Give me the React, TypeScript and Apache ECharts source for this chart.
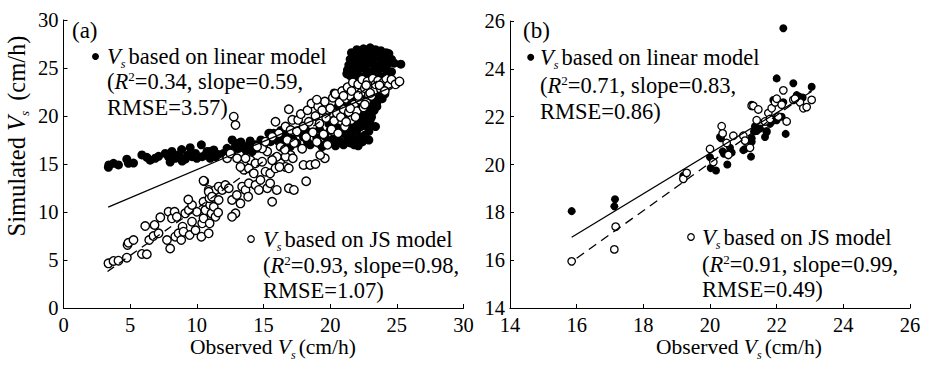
import React, { useEffect, useRef } from "react";
import * as echarts from "echarts";

const FONT = "'Liberation Serif', 'Times New Roman', serif";

// ---------- Axis ranges / ticks ----------
const axisA = { min: 0, max: 30, interval: 5 };
const axisB = { min: 14, max: 26, interval: 2 };

// ---------- Panel (a): Vs from linear model (filled) ----------
const linearA: number[][] = [
  [3.37, 14.65], [3.4, 14.9], [3.75, 15.07], [4.12, 14.9], [4.75, 15.5], [4.87, 15.07], [5.25, 15.1],
  [5.88, 15.94], [6.25, 15.7], [6.5, 15.4], [6.88, 15.6], [7.13, 15.8], [7.63, 16.1], [7.88, 15.76],
  [8.13, 16.3], [8.38, 15.6], [8.63, 15.94], [8.86, 16.5], [9.13, 15.5], [9.5, 16.7], [9.64, 15.76],
  [9.9, 16.1], [10.34, 17.0], [10.4, 15.76], [10.77, 16.3], [11.0, 15.6], [11.27, 16.46], [8.0, 15.2],
  [8.9, 15.3], [9.3, 15.9], [9.64, 15.94], [10.0, 15.6], [10.64, 15.94], [11.0, 16.3], [11.4, 15.76],
  [11.6, 16.0], [12.0, 16.1], [12.27, 16.63], [12.65, 17.5], [12.9, 17.15], [13.14, 16.63], [13.52, 16.8],
  [13.9, 16.98], [14.15, 16.3], [14.52, 16.63], [15.02, 16.98], [15.4, 18.2], [15.78, 18.2], [15.53, 17.33],
  [16.15, 17.33], [16.53, 16.63], [12.4, 16.2], [12.8, 16.6], [13.3, 17.3], [13.7, 16.4], [14.0, 17.4],
  [14.4, 17.0], [14.8, 17.5],
  [15.5, 18.2], [15.8, 17.6], [16.2, 17.8], [16.5, 17.3], [16.8, 18.0], [17.0, 16.8], [17.2, 17.6],
  [17.5, 17.2], [17.9, 16.6], [18.0, 17.8], [18.3, 17.3], [18.5, 17.0], [18.7, 18.3], [19.0, 17.7],
  [19.15, 17.15], [19.4, 16.8], [19.6, 17.9], [19.8, 17.3], [20.0, 18.5], [20.2, 17.6], [20.4, 16.9],
  [20.5, 18.8], [20.7, 17.4], [20.9, 18.2], [21.0, 17.0], [21.2, 19.0], [21.3, 17.7], [21.5, 18.4],
  [19.2, 18.6], [19.9, 19.2], [20.3, 19.6], [20.7, 20.2], [21.0, 19.8], [18.2, 18.5], [17.6, 18.3],
  [16.9, 18.6], [16.3, 18.5], [20.3, 22.4], [20.8, 21.7], [21.2, 22.6], [20.6, 21.0],
  [21.5, 17.2], [21.8, 17.0], [22.1, 16.9], [22.4, 17.3], [21.6, 17.9], [21.9, 17.6], [22.2, 17.8],
  [22.6, 18.0], [22.9, 18.4], [21.4, 18.8], [21.7, 18.6], [22.0, 18.5], [22.3, 18.9], [22.7, 19.0],
  [23.0, 19.2], [23.0, 19.6], [21.5, 19.5], [21.8, 19.3], [22.1, 19.7], [22.5, 19.9], [22.8, 20.1],
  [23.1, 19.9], [23.1, 20.3], [23.3, 20.6], [21.6, 20.3], [21.9, 20.2], [22.2, 20.6], [22.6, 20.8],
  [22.9, 21.0], [23.2, 21.2], [23.5, 21.4], [23.5, 21.0], [21.7, 21.1], [22.0, 21.3], [22.3, 21.6],
  [22.7, 21.8], [23.0, 22.0], [23.4, 22.1], [23.7, 22.3], [23.8, 22.5], [21.9, 22.0], [22.2, 22.3],
  [22.5, 22.6], [22.9, 22.8], [23.2, 23.0], [23.6, 23.0], [23.9, 22.9], [24.2, 23.0], [21.3, 21.2],
  [21.1, 20.5], [22.4, 19.4], [23.9, 21.8], [24.1, 22.3], [23.4, 18.9], [22.9, 17.5],
  [22.0, 26.9], [22.5, 27.0], [23.0, 27.1], [23.4, 26.9], [23.8, 26.8], [21.6, 26.6], [22.2, 26.5],
  [22.7, 26.6], [23.2, 26.5], [23.7, 26.4], [24.2, 26.6], [24.4, 26.5], [21.5, 25.9], [21.9, 26.1],
  [22.4, 26.0], [22.9, 26.0], [23.4, 26.1], [23.9, 25.9], [24.4, 26.1], [21.4, 25.3], [21.8, 25.5],
  [22.3, 25.4], [22.8, 25.5], [23.3, 25.3], [23.8, 25.5], [24.3, 25.4], [24.8, 25.5], [25.3, 25.4],
  [21.3, 24.8], [21.7, 24.7], [22.2, 24.9], [22.7, 24.8], [23.2, 24.7], [23.7, 24.9], [24.2, 24.8],
  [24.6, 24.6], [21.25, 24.4], [21.5, 24.2], [22.0, 24.3], [22.5, 24.1], [23.0, 24.2], [23.5, 24.3],
  [24.0, 24.1], [24.4, 24.0], [21.9, 23.6], [22.4, 23.7], [22.9, 23.6], [23.4, 23.5], [23.9, 23.6],
  [24.3, 23.4], [22.2, 26.2], [23.1, 25.8], [24.0, 25.2], [22.6, 25.1], [21.9, 24.6], [23.5, 24.6],
  [22.7, 26.3], [23.6, 26.2], [22.1, 25.0], [24.6, 25.9],
];

// ---------- Panel (a): Vs from JS model (open) ----------
const jsA: number[][] = [
  [3.37, 4.65], [3.75, 4.9], [4.12, 4.93], [4.75, 5.24], [4.8, 6.56], [4.87, 6.8], [5.25, 7.08],
  [5.88, 5.63], [6.25, 5.6], [6.13, 8.54], [6.43, 7.08], [6.75, 7.5], [6.83, 8.65], [7.13, 7.78],
  [7.26, 9.44], [7.76, 7.08], [7.88, 10.03], [8.0, 6.2], [8.13, 9.34], [8.33, 10.03], [8.5, 9.5],
  [8.38, 7.43], [8.63, 7.78], [8.83, 7.08], [8.93, 8.47], [9.0, 7.95], [9.13, 9.86], [9.46, 7.6],
  [9.64, 8.99], [9.9, 8.1], [10.0, 10.03], [9.4, 10.2], [9.64, 10.73], [10.34, 7.43], [10.4, 8.82],
  [10.5, 9.34], [10.64, 10.2], [10.5, 11.07], [10.89, 7.78], [10.96, 8.82], [11.1, 9.86], [11.0, 10.73],
  [10.94, 11.43], [10.89, 12.3], [10.56, 13.2], [11.14, 11.77], [11.4, 9.5], [11.27, 10.55], [9.36, 11.3],
  [11.6, 9.95],
  [12.77, 19.93], [12.9, 19.06], [10.5, 13.26], [11.4, 12.3], [11.64, 12.64], [11.9, 12.3], [12.14, 12.8],
  [12.4, 12.47], [10.89, 12.1], [11.14, 11.6], [11.64, 11.25], [12.64, 11.25], [13.0, 11.77], [13.27, 10.9],
  [13.4, 12.64], [12.9, 9.86], [12.64, 9.5], [13.65, 12.3], [13.9, 12.99], [14.4, 12.8], [14.77, 13.33],
  [15.28, 12.47], [15.65, 11.07], [14.65, 12.3], [13.52, 14.4], [13.27, 14.7], [13.9, 14.55], [14.27, 14.03],
  [14.02, 15.4], [13.65, 15.6], [14.4, 15.07], [14.9, 15.24], [15.15, 14.2], [15.5, 14.03], [15.9, 14.55],
  [16.28, 15.07], [16.65, 14.7], [16.9, 12.47], [17.28, 12.3], [15.5, 12.99], [16.0, 12.3], [16.9, 14.55],
  [17.03, 15.94], [16.65, 15.77], [16.0, 15.76], [15.65, 15.4], [15.28, 16.3], [14.9, 16.63], [14.52, 16.8],
  [16.28, 16.8], [16.78, 17.5], [15.9, 19.4], [16.9, 20.7], [17.16, 19.6], [16.65, 18.9], [17.03, 18.54],
  [16.15, 18.2], [15.65, 17.84], [15.15, 17.33], [12.27, 15.6], [12.52, 16.1], [13.02, 15.6], [13.85, 11.6],
  [17.2, 15.6], [18.0, 14.9], [18.5, 14.9], [18.9, 15.0], [19.6, 15.6], [19.25, 15.94], [16.6, 16.5],
  [16.2, 14.7], [18.2, 13.2],
  [17.3, 17.2], [17.5, 18.4], [17.6, 19.6], [17.8, 20.2], [17.9, 16.6], [18.0, 18.9], [18.2, 17.8],
  [18.3, 20.6], [18.4, 19.4], [18.6, 21.3], [18.7, 18.3], [18.9, 20.0], [19.0, 17.3], [19.1, 21.0],
  [19.2, 19.2], [19.4, 20.6], [19.5, 18.1], [19.6, 21.5], [19.7, 19.8], [19.8, 17.0], [20.0, 20.8],
  [20.1, 18.6], [20.2, 21.9], [20.3, 19.5], [20.4, 22.3], [20.5, 20.3], [20.6, 18.2], [20.7, 21.4],
  [20.8, 19.9], [20.9, 22.6], [21.0, 20.7], [21.1, 18.9], [21.2, 21.8], [21.3, 23.0], [21.4, 20.4],
  [21.5, 22.1], [21.6, 19.6], [21.7, 23.5], [21.8, 21.2], [21.9, 22.7], [22.0, 20.5], [22.1, 23.3],
  [22.2, 21.7], [22.3, 22.4], [22.4, 23.8], [22.5, 20.9], [22.6, 22.9], [22.7, 21.5], [22.8, 23.6],
  [22.9, 22.2], [23.0, 23.1], [23.1, 22.1], [23.2, 23.9], [23.3, 22.6], [23.4, 23.3], [23.6, 23.7],
  [23.8, 22.8], [24.0, 23.5], [24.2, 23.9], [24.4, 23.2], [24.6, 23.8], [24.9, 23.3], [25.2, 23.6],
  [19.0, 21.7], [21.2, 19.4], [21.5, 20.8], [21.9, 19.9], [22.6, 21.2], [23.0, 22.4], [21.0, 22.1],
  [21.6, 22.6], [22.1, 22.1], [22.7, 23.2], [23.7, 23.2], [24.1, 22.6],
];

// ---------- Panel (b) ----------
const linearB: number[][] = [
  [15.85, 18.05], [17.15, 18.55], [17.13, 18.25], [19.2, 19.53], [20.0, 20.3], [20.02, 19.85],
  [20.18, 19.75], [20.3, 21.15], [20.33, 21.1], [20.38, 20.55], [20.42, 20.45], [20.52, 20.0],
  [20.6, 20.7], [20.65, 20.5], [21.0, 20.6], [21.05, 20.65], [21.23, 20.33], [21.25, 20.95],
  [21.25, 21.1], [21.32, 21.38], [21.35, 21.6], [21.25, 22.5], [21.4, 21.4], [21.65, 21.15],
  [21.7, 21.35], [21.7, 21.4], [21.8, 21.7], [21.85, 21.8], [21.9, 22.7], [22.0, 21.85], [22.0, 23.6],
  [22.15, 22.0], [22.2, 22.6], [22.2, 25.7], [22.27, 21.28], [22.5, 23.4], [22.6, 22.9],
  [22.67, 22.84], [22.78, 22.8], [23.05, 23.25], [21.5, 21.5], [21.95, 21.9],
];
const jsB: number[][] = [
  [15.85, 15.95], [17.17, 17.4], [17.13, 16.45], [19.2, 19.4], [19.3, 19.65], [20.0, 20.65],
  [20.1, 20.1], [20.35, 21.6], [20.38, 21.3], [20.7, 21.2], [20.55, 20.4], [20.5, 20.9], [21.0, 21.2],
  [21.05, 21.0], [21.2, 20.7], [21.25, 22.45], [21.3, 22.45], [21.45, 22.3], [21.4, 21.85],
  [21.65, 21.8], [21.75, 22.15], [21.85, 22.35], [21.95, 22.6], [22.0, 22.75], [22.2, 23.1],
  [22.15, 22.5], [22.05, 22.0], [22.3, 21.8], [22.5, 22.7], [22.7, 22.6], [22.8, 22.35], [22.9, 22.4],
  [23.05, 22.7], [22.55, 22.75], [21.8, 21.9],
];

// ---------- Fitted lines (end points) ----------
const linFitA: number[][] = [[3.35, 10.5], [24.6, 23.0]];
const jsFitA: number[][] = [[3.3, 3.8], [24.5, 24.6]];
const linFitB: number[][] = [[15.85, 16.96], [23.05, 23.05]];
const jsFitB: number[][] = [[16.0, 16.08], [23.05, 23.1]];

// ---------- Statistics shown in the annotations ----------
const statsA = { lin: ["0.34", "0.59", "3.57"], js: ["0.93", "0.98", "1.07"] };
const statsB = { lin: ["0.71", "0.83", "0.86"], js: ["0.91", "0.99", "0.49"] };

const FS = 22.5;
const TS = 21.5;
const YS = 24.5;
const RICH: any = {
  n: { fontFamily: FONT, fontSize: FS, lineHeight: 24, fill: "#000" },
  a: { fontFamily: FONT, fontSize: 23, lineHeight: 24, fill: "#000" },
  t: { fontFamily: FONT, fontSize: TS, lineHeight: 24, fill: "#000" },
  ty: { fontFamily: FONT, fontSize: YS, lineHeight: 26, fill: "#000" },
  i: { fontFamily: FONT, fontSize: FS, lineHeight: 24, fontStyle: "italic", fill: "#000" },
  it: { fontFamily: FONT, fontSize: TS, lineHeight: 24, fontStyle: "italic", fill: "#000" },
  ity: { fontFamily: FONT, fontSize: YS, lineHeight: 26, fontStyle: "italic", fill: "#000" },
  sub: { fontFamily: FONT, fontSize: 12, lineHeight: 24, fontStyle: "italic", fill: "#000", padding: [15, 3, 0, 0] },
  suby: { fontFamily: FONT, fontSize: 13, lineHeight: 26, fontStyle: "italic", fill: "#000", padding: [16, 4, 0, 0] },
  sup: { fontFamily: FONT, fontSize: 13, lineHeight: 24, fill: "#000", padding: [0, 0, 10, 0] },
};

function txt(x: number, y: number, text: string, extra: any = {}) {
  return {
    type: "text",
    x,
    y,
    silent: true,
    ...extra,
    style: { text, rich: RICH, align: "left", verticalAlign: "middle", fill: "#000", font: `${FS}px ${FONT}`, ...(extra.style || {}) },
  };
}

function legendBlock(mx: number, my: number, tx: number, ys: number[], model: string, s: string[], filled: boolean) {
  return [
    {
      type: "circle",
      silent: true,
      shape: { cx: mx, cy: my, r: filled ? 3.5 : 3.3 },
      style: filled ? { fill: "#000" } : { fill: "#fff", stroke: "#000", lineWidth: 1.2 },
    },
    txt(tx, ys[0], `{i|V}{sub|s}{n|based on ${model} model}`),
    txt(tx, ys[1], `{n|(}{i|R}{sup|2}{n|=${s[0]}, slope=${s[1]},}`),
    txt(tx, ys[2], `{n|RMSE=${s[2]})}`),
  ];
}

function axisCommon(extra: any) {
  return {
    type: "value",
    axisLine: { onZero: false, lineStyle: { color: "#000", width: 1 } },
    axisTick: { inside: true, length: 4, lineStyle: { color: "#000", width: 1 } },
    splitLine: { show: false },
    ...extra,
  };
}

const labelStyle = { color: "#000", fontFamily: FONT, fontSize: 20.5 };

const option: any = {
  animation: false,
  backgroundColor: "#fff",
  grid: [
    { left: 63.5, top: 20, width: 400, height: 288 },
    { left: 510, top: 21, width: 400, height: 287 },
  ],
  xAxis: [
    axisCommon({ gridIndex: 0, ...axisA, axisLabel: { ...labelStyle, margin: 6 } }),
    axisCommon({ gridIndex: 1, ...axisB, axisLabel: { ...labelStyle, margin: 6 } }),
  ],
  yAxis: [
    axisCommon({ gridIndex: 0, ...axisA, axisLabel: { ...labelStyle, margin: 5 } }),
    axisCommon({ gridIndex: 1, ...axisB, axisLabel: { ...labelStyle, margin: 5 } }),
  ],
  series: [
    { type: "scatter", xAxisIndex: 0, yAxisIndex: 0, data: linearA, symbolSize: 9, itemStyle: { color: "#000", opacity: 1 }, silent: true },
    { type: "scatter", xAxisIndex: 0, yAxisIndex: 0, data: jsA, symbolSize: 8.5, itemStyle: { color: "#fff", borderColor: "#000", borderWidth: 1.4, opacity: 1 }, silent: true },
    { type: "scatter", xAxisIndex: 1, yAxisIndex: 1, data: linearB, symbolSize: 8, itemStyle: { color: "#000", opacity: 1 }, silent: true },
    { type: "scatter", xAxisIndex: 1, yAxisIndex: 1, data: jsB, symbolSize: 7.5, itemStyle: { color: "#fff", borderColor: "#000", borderWidth: 1.3, opacity: 1 }, silent: true },
    { type: "line", xAxisIndex: 0, yAxisIndex: 0, data: linFitA, symbol: "none", z: 5, lineStyle: { color: "#000", width: 1.3 }, silent: true },
    { type: "line", xAxisIndex: 0, yAxisIndex: 0, data: jsFitA, symbol: "none", z: 5, lineStyle: { color: "#000", width: 1.3, type: [8, 6] }, silent: true },
    { type: "line", xAxisIndex: 1, yAxisIndex: 1, data: linFitB, symbol: "none", z: 5, lineStyle: { color: "#000", width: 1.3 }, silent: true },
    { type: "line", xAxisIndex: 1, yAxisIndex: 1, data: jsFitB, symbol: "none", z: 5, lineStyle: { color: "#000", width: 1.3, type: [9, 6] }, silent: true },
  ],
  graphic: [
    txt(72, 30, "{a|(a)}"),
    txt(523, 30, "{a|(b)}"),
    ...legendBlock(95.5, 56.5, 107, [56, 81.5, 107], "linear", statsA.lin, true),
    ...legendBlock(251, 239, 263, [239, 265, 290], "JS", statsA.js, false),
    ...legendBlock(530.7, 57.3, 540, [57, 85, 111], "linear", statsB.lin, true),
    ...legendBlock(691, 237, 702, [237, 264, 289], "JS", statsB.js, false),
    txt(273, 347, "{t|Observed }{it|V}{sub|s}{t|(cm/h)}", { style: { align: "center" } }),
    txt(739, 347, "{t|Observed }{it|V}{sub|s}{t|(cm/h)}", { style: { align: "center" } }),
    txt(16, 136, "{ty|Simulated }{ity|V}{suby|s}{ty| (cm/h)}", { rotation: Math.PI / 2, style: { align: "center" } }),
  ],
};

export default function App() {
  const ref = useRef<HTMLDivElement>(null);
  useEffect(() => {
    document.body.style.margin = "0";
    const chart = echarts.init(ref.current!, null, { renderer: "svg" });
    chart.setOption(option);
    return () => chart.dispose();
  }, []);
  return <div ref={ref} style={{ width: 926, height: 365 }} />;
}
